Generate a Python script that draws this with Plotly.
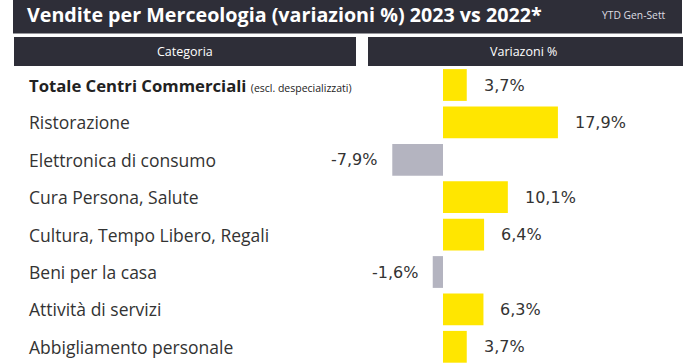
import plotly.graph_objects as go

categories = ["Totale Centri Commerciali", "Ristorazione", "Elettronica di consumo",
              "Cura Persona, Salute", "Cultura, Tempo Libero, Regali", "Beni per la casa",
              "Attività di servizi", "Abbigliamento personale"]
values = [3.7, 17.9, -7.9, 10.1, 6.4, -1.6, 6.3, 3.7]
value_labels = ["3,7%", "17,9%", "-7,9%", "10,1%", "6,4%", "-1,6%", "6,3%", "3,7%"]
note_first = "(escl. despecializzati)"
title_text = "Vendite per Merceologia (variazioni %) 2023 vs 2022*"
period_text = "YTD Gen-Sett"
header_left = "Categoria"
header_right = "Variazoni %"

W, H = 696, 364
T = 50           # top margin (figure px)
PH = H - T
YELLOW = "#FFE600"
GREY = "#B4B4C0"
DARK = "#2E2E38"
TXT = "#333333"

def px(xs):
    return xs / W

def py(ys):
    return (H - ys) / PH

colors = [YELLOW if v >= 0 else GREY for v in values]

fig = go.Figure(go.Bar(
    x=values, y=list(range(len(categories))), orientation="h",
    marker=dict(color=colors, line=dict(width=0)),
    width=0.85, hoverinfo="skip"))

k = 6.42
zero_fig = 443
x0 = -zero_fig / k
x1 = (W - zero_fig) / k

annotations = []
for i, (c, v, lab) in enumerate(zip(categories, values, value_labels)):
    if i == 0:
        annotations.append(dict(
            x=px(27), y=i, xref="paper", yref="y", xanchor="left", yanchor="middle",
            text=f"<b>{c}</b> <span style='font-size:10.5px'>{note_first}</span>",
            showarrow=False, font=dict(family="Open Sans", size=16.7, color="#222222")))
    else:
        annotations.append(dict(
            x=px(27), y=i, xref="paper", yref="y", xanchor="left", yanchor="middle",
            text=c, showarrow=False,
            font=dict(family="Open Sans", size=17.5, color=TXT)))
    annotations.append(dict(
        x=v, y=i, xref="x", yref="y",
        xanchor="left" if v >= 0 else "right", yanchor="middle",
        xshift=15 if v >= 0 else -13,
        text=lab, showarrow=False,
        font=dict(family="DejaVu Sans", size=16, color=TXT)))

annotations += [
    dict(x=px(25), y=py(15), xref="paper", yref="paper", xanchor="left", yanchor="middle",
         text=f"<b>{title_text}</b>", showarrow=False,
         font=dict(family="Open Sans", size=19.7, color="white")),
    dict(x=px(668), y=py(15), xref="paper", yref="paper", xanchor="right", yanchor="middle",
         text=period_text, showarrow=False,
         font=dict(family="Open Sans", size=10.3, color="#DDDDE2")),
    dict(x=px(185), y=py(51.5), xref="paper", yref="paper", xanchor="center", yanchor="middle",
         text=header_left, showarrow=False,
         font=dict(family="Open Sans", size=12.5, color="white")),
    dict(x=px(523), y=py(51.5), xref="paper", yref="paper", xanchor="center", yanchor="middle",
         text=header_right, showarrow=False,
         font=dict(family="Open Sans", size=12.5, color="white")),
]

shapes = [
    dict(type="rect", xref="paper", yref="paper", x0=px(13), x1=px(682), y0=py(0), y1=py(33.5),
         fillcolor=DARK, line=dict(width=0), layer="below"),
    dict(type="rect", xref="paper", yref="paper", x0=px(14), x1=px(356), y0=py(37), y1=py(66),
         fillcolor=DARK, line=dict(width=0), layer="below"),
    dict(type="rect", xref="paper", yref="paper", x0=px(368), x1=px(683), y0=py(37), y1=py(66),
         fillcolor=DARK, line=dict(width=0), layer="below"),
]

# rows: first row centre ~85px, spacing ~37.4px
row0 = 85.0
sp = 37.4
ymin = (T - row0) / sp
ymax = ymin + PH / sp

fig.update_layout(
    width=W, height=H,
    margin=dict(l=0, r=0, t=T, b=0),
    paper_bgcolor="white", plot_bgcolor="white",
    showlegend=False,
    hovermode=False,
    xaxis=dict(range=[x0, x1], visible=False, fixedrange=True),
    yaxis=dict(range=[ymax, ymin], visible=False, fixedrange=True),
    annotations=annotations, shapes=shapes,
)

fig.write_html("out.html",
               config={"displayModeBar": False},
               post_script="document.body.style.margin='0';document.body.style.overflow='hidden';")
